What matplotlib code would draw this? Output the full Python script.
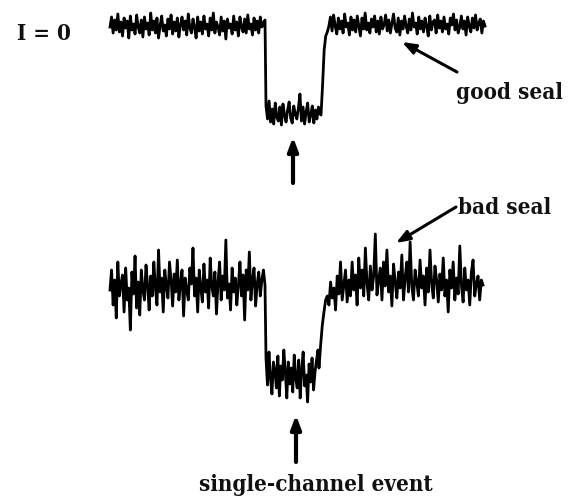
import numpy as np
import matplotlib.pyplot as plt

# top trace (good seal): baseline, channel open, baseline again
top_edges = [110, 265, 320, 485]
top_left = [27, 17, 33, 20, 30, 14, 32, 22, 36, 18, 28, 21, 38, 16, 30, 24, 34, 15, 27, 33,
            20, 37, 17, 29, 23, 35, 13, 30, 21, 33, 18, 38, 26, 16, 31, 25, 36, 19, 29, 15,
            34, 22, 31, 18, 37, 25, 17, 30, 21, 35, 14, 28, 33, 19, 27, 38, 17, 31, 22, 34,
            16, 29, 24, 36, 18, 30, 13, 33, 22, 27, 35, 17, 31, 21, 39, 19, 28, 24, 34, 16,
            30, 22, 36, 17, 27, 32, 19, 33, 15, 29, 24, 35, 18, 30, 21, 33, 17, 27, 23, 20]
top_open = [106, 119, 101, 122, 109, 124, 103, 117, 121, 107, 125, 104, 115, 122, 110, 102,
            118, 123, 106, 114, 119, 108, 94, 121, 107, 124, 112, 103, 122, 115, 106, 123,
            110, 119, 107, 114]
top_right = [115, 85, 50, 36, 32, 26, 17, 31, 15, 26, 34, 18, 29, 21, 33, 14, 27, 23, 35, 17,
             30, 20, 32, 16, 26, 36, 18, 29, 13, 30, 23, 33, 19, 27, 16, 32, 21, 34, 17, 29,
             25, 15, 31, 20, 33, 23, 14, 28, 32, 18, 35, 21, 29, 16, 26, 33, 19, 30, 13, 27,
             23, 34, 17, 29, 21, 32, 18, 26, 36, 16, 30, 22, 20, 33, 15, 28, 21, 32, 17, 29,
             24, 34, 18, 25, 14, 30, 20, 33, 27, 16, 29, 21, 35, 17, 26, 32, 18, 28, 15, 30,
             23, 19, 33, 21, 26]

# bottom trace (bad seal)
bot_edges = [110, 265, 318, 483]
bot_left = [290, 270, 305, 280, 318, 262, 296, 284, 275, 312, 268, 300, 288, 330, 272, 294,
            256, 308, 282, 315, 270, 290, 300, 265, 285, 310, 276, 296, 262, 288, 305, 250,
            292, 278, 312, 270, 286, 298, 262, 280, 306, 274, 292, 260, 300, 284, 270, 316,
            278, 290, 300, 268, 284, 248, 296, 278, 312, 270, 288, 302, 264, 292, 280, 308,
            258, 286, 296, 272, 314, 282, 262, 300, 276, 290, 240, 298, 284, 310, 268, 292,
            278, 305, 285, 262, 296, 275, 320, 270, 290, 252, 300, 280, 268, 306, 284, 272,
            296, 280, 270, 285]
bot_open = [358, 385, 352, 378, 394, 362, 370, 388, 356, 396, 366, 380, 350, 372, 398, 362,
            384, 368, 392, 355, 378, 388, 360, 398, 370, 352, 386, 375, 402, 364, 382, 358,
            390, 372, 360, 350]
bot_right = [368, 345, 325, 312, 300, 296, 305, 282, 298, 288, 310, 276, 294, 262, 300, 285,
             270, 302, 280, 296, 262, 290, 275, 305, 258, 288, 270, 296, 248, 284, 300, 266,
             290, 276, 234, 295, 280, 268, 300, 262, 286, 250, 292, 276, 306, 264, 282, 298,
             272, 288, 255, 300, 278, 262, 292, 242, 286, 300, 270, 282, 296, 260, 288, 276,
             305, 268, 292, 250, 284, 298, 266, 280, 302, 274, 290, 258, 296, 280, 312, 270,
             288, 262, 300, 278, 294, 246, 286, 302, 268, 290, 280, 305, 272, 260, 296, 284,
             276, 300, 280, 285]


def trace(edges, segs):
    xs, ys = [], []
    for k, seg in enumerate(segs):
        start = edges[k] + (1 if k > 0 else 0)
        xs.append(np.linspace(start, edges[k + 1], len(seg)))
        ys.append(np.array(seg, dtype=float))
    return np.concatenate(xs), np.concatenate(ys)


fig = plt.figure(figsize=(5.71, 5.03), dpi=100)
ax = fig.add_axes([0, 0, 1, 1])
ax.set_xlim(0, 571)
ax.set_ylim(503, 0)
ax.axis('off')

x, y = trace(top_edges, [top_left, top_open, top_right])
ax.plot(x, y, color='black', lw=2.0)
x, y = trace(bot_edges, [bot_left, bot_open, bot_right])
ax.plot(x, y, color='black', lw=2.0)

font = dict(family='DejaVu Serif', stretch='condensed', weight='bold', size=16,
            color='#111111')
ax.text(17, 34, 'I = 0', ha='left', va='center', **font)
ax.text(456, 93, 'good seal', ha='left', va='center', **font)
ax.text(458, 208, 'bad seal', ha='left', va='center', **font)
ax.text(316, 485, 'single-channel event', ha='center', va='center', **font)

up = dict(arrowstyle='-|>,head_width=0.3,head_length=0.8', lw=3, color='black',
          shrinkA=0, shrinkB=0)
ax.annotate('', xy=(293, 137), xytext=(293, 183), arrowprops=up)
ax.annotate('', xy=(296, 415), xytext=(296, 462), arrowprops=up)
side = dict(arrowstyle='-|>,head_width=0.3,head_length=0.8', lw=2.2, color='black',
            shrinkA=0, shrinkB=0)
ax.annotate('', xy=(402, 42), xytext=(457, 72), arrowprops=side)
ax.annotate('', xy=(396, 243), xytext=(456, 207), arrowprops=side)

plt.savefig('out.png', dpi=100)
